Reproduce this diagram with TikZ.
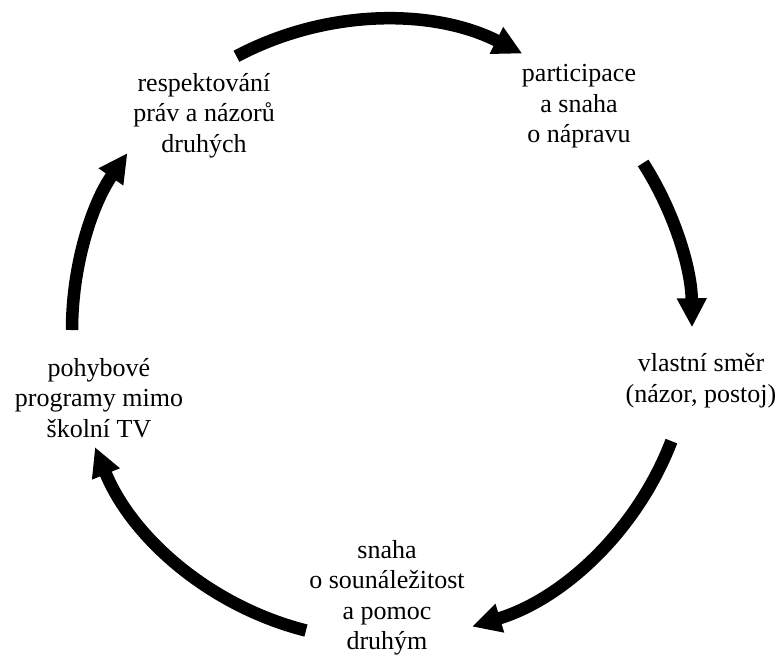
\documentclass[tikz,border=0pt]{standalone}
\usepackage{fontspec}
\setmainfont{Liberation Serif}
\usetikzlibrary{arrows.meta}

\begin{document}
\begin{tikzpicture}[x=1pt,y=-1pt,
    label/.style={align=center,inner sep=0pt,font=\fontsize{26}{30.5}\selectfont},
    cyc/.style={line width=12.5pt,line cap=butt,-{Triangle[length=29pt,width=28pt]}}]
  \useasboundingbox (0,0) rectangle (781,659);

  % centre of the cycle
  \coordinate (c) at (382,330);

  % the five stages
  \node[label] (resp) at (204,115.3) {respektování\\práv a názorů\\druhých};
  \node[label] (part) at (579,106.3) {participace\\a snaha\\o nápravu};
  \node[label] (smer) at (701,380.5) {vlastní směr\\(názor, postoj)};
  \node[label] (snah) at (387,597.7) {snaha\\o sounáležitost\\a pomoc\\druhým};
  \node[label] (pohy) at (99,397.7) {pohybové\\programy mimo\\školní TV};

  % start points of the arcs on the circle
  \coordinate (a1) at ([shift={(c)}]242:310);
  \coordinate (a2) at ([shift={(c)}]-32.6:310);
  \coordinate (a3) at ([shift={(c)}]21:310);
  \coordinate (a4) at ([shift={(c)}]104.2:310);
  \coordinate (a5) at ([shift={(c)}]180:310);

  % arrows running round the cycle
  \draw[cyc] (a1) arc[start angle=242,end angle=296.9,radius=310];
  \draw[cyc] (a2) arc[start angle=-32.6,end angle=-0.5,radius=310];
  \draw[cyc] (a3) arc[start angle=21,end angle=73.1,radius=310];
  \draw[cyc] (a4) arc[start angle=104.2,end angle=157.8,radius=310];
  \draw[cyc] (a5) arc[start angle=180,end angle=214.8,radius=310];
\end{tikzpicture}
\end{document}
